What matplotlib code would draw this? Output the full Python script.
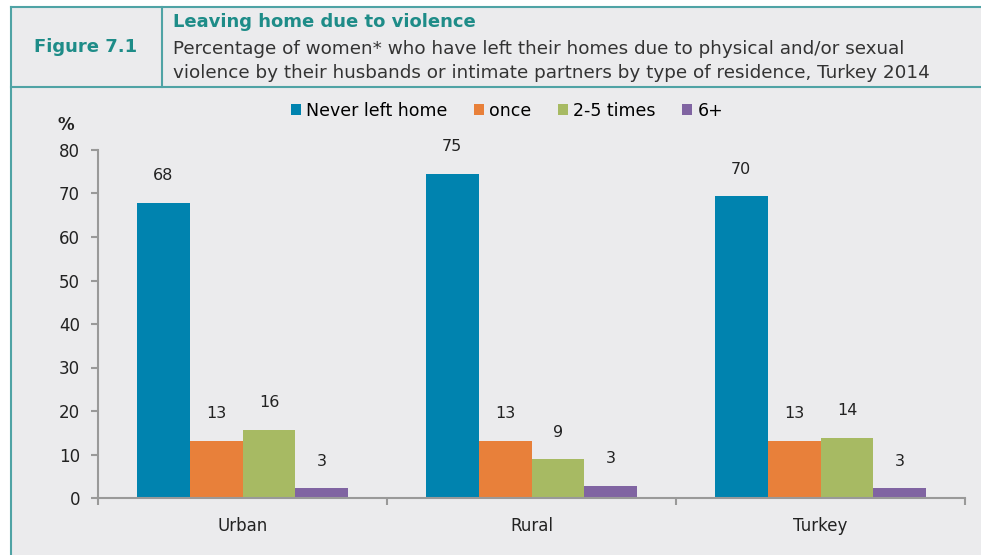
import numpy as np
import matplotlib
matplotlib.use('Agg')
import matplotlib.pyplot as plt
from matplotlib.patches import Rectangle
from matplotlib.lines import Line2D

# data
categories = ['Urban', 'Rural', 'Turkey']
series_names = ['Never left home', 'once', '2-5 times', '6+']
never_left = [67.8, 74.5, 69.4]
once = [13.1, 13.1, 13.1]
two_to_five = [15.7, 8.9, 13.9]
six_plus = [2.2, 2.8, 2.2]
never_labels = ['68', '75', '70']
once_labels = ['13', '13', '13']
two_five_labels = ['16', '9', '14']
six_labels = ['3', '3', '3']

colors = ['#0083AF', '#E8803A', '#A7BA63', '#8064A2']
bg = '#EBEBED'
teal = '#4FA3A5'
title_col = '#1E8C88'
txt = '#222222'

plt.rcParams['font.family'] = ['DejaVu Sans']

fig = plt.figure(figsize=(9.81, 5.55), dpi=100)
fig.patch.set_facecolor('white')
W, H = 981, 555


def fx(px):
    return px / W


def fy(py):
    return 1 - py / H


# background panel and header frame
fig.patches.append(Rectangle((fx(11), 0), 1, fy(7), transform=fig.transFigure,
                             facecolor=bg, edgecolor='none', zorder=-5))
fig.add_artist(Line2D([fx(11), 1], [fy(7), fy(7)], color=teal, lw=1.5))
fig.add_artist(Line2D([fx(11), 1], [fy(87), fy(87)], color=teal, lw=1.5))
fig.add_artist(Line2D([fx(11), fx(11)], [0, fy(7)], color=teal, lw=1.5))
fig.add_artist(Line2D([fx(162), fx(162)], [fy(87), fy(7)], color=teal, lw=1.5))

fig.text(fx(86), fy(47), 'Figure 7.1', ha='center', va='center', fontsize=13,
         fontweight='bold', color=title_col)
fig.text(fx(173), fy(22), 'Leaving home due to violence', ha='left', va='center',
         fontsize=13, fontweight='bold', color=title_col)
fig.text(fx(173), fy(49), 'Percentage of women* who have left their homes due to physical and/or sexual',
         ha='left', va='center', fontsize=13.2, color='#333333')
fig.text(fx(173), fy(73), 'violence by their husbands or intimate partners by type of residence, Turkey 2014',
         ha='left', va='center', fontsize=13.2, color='#333333')

ax = fig.add_axes([fx(98), fy(498), fx(965) - fx(98), fy(150) - fy(498)])
ax.set_facecolor(bg)

x = np.arange(len(categories))
width = 0.183
series = [never_left, once, two_to_five, six_plus]
labels = [never_labels, once_labels, two_five_labels, six_labels]
for i, (vals, labs) in enumerate(zip(series, labels)):
    pos = x + (i - 1.5) * width
    bars = ax.bar(pos, vals, width, color=colors[i], label=series_names[i], zorder=2)
    for b, lab in zip(bars, labs):
        ax.text(b.get_x() + b.get_width() / 2, b.get_height() + 4.5, lab,
                ha='center', va='bottom', fontsize=11.5, color=txt)

ax.set_xlim(-0.5, 2.5)
ax.set_ylim(0, 80)
ax.set_yticks(np.arange(0, 81, 10))
ax.set_xticks(x)
ax.set_xticklabels(categories)
ax.set_xticks([-0.5, 0.5, 1.5, 2.5], minor=True)
ax.tick_params(axis='x', which='major', length=0, pad=14, labelsize=12, labelcolor=txt)
ax.tick_params(axis='x', which='minor', length=5, color='#999999', width=1.5)
ax.tick_params(axis='y', length=5, color='#999999', width=1.5, labelsize=12, labelcolor=txt, pad=8)
for s in ['top', 'right']:
    ax.spines[s].set_visible(False)
for s in ['left', 'bottom']:
    ax.spines[s].set_color('#999999')
    ax.spines[s].set_linewidth(1.5)

fig.text(fx(66), fy(125), '%', ha='center', va='center', fontsize=12,
         fontweight='bold', color=txt)

fig.legend(loc='center', bbox_to_anchor=(fx(507), fy(111)), ncol=4, frameon=False,
           handlelength=0.6, handleheight=0.6, handletextpad=0.3, columnspacing=1.5,
           fontsize=12.5)

fig.savefig('out.png', dpi=100, facecolor=fig.get_facecolor())
